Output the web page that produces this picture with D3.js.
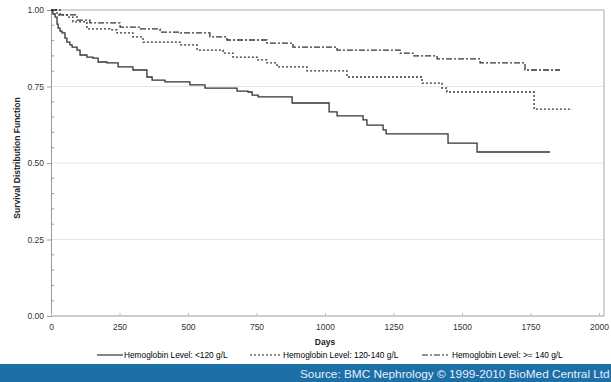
<!DOCTYPE html>
<html>
<head>
<meta charset="utf-8">
<script src="https://cdn.jsdelivr.net/npm/d3@7"></script>
<style>
  body { margin: 0; background: #fff; }
  text { font-family: "Liberation Sans", Arial, sans-serif; }
</style>
</head>
<body>
<script>
// Kaplan-Meier estimates: [day, survival]
const lowHb = [[0,1],[4,0.997],[7,0.987],[15,0.977],[22,0.954],[26,0.941],[33,0.931],[40,0.925],[51,0.908],[58,0.895],[69,0.886],[77,0.879],[95,0.869],[106,0.853],[131,0.846],[153,0.843],[172,0.830],[204,0.827],[245,0.814],[299,0.804],[350,0.781],[369,0.771],[416,0.765],[507,0.755],[562,0.745],[679,0.735],[719,0.732],[734,0.722],[756,0.716],[880,0.696],[1015,0.667],[1044,0.654],[1139,0.641],[1153,0.624],[1212,0.608],[1223,0.595],[1449,0.565],[1555,0.536],[1821,0.536]];
const midHb = [[0,1],[33,0.984],[58,0.977],[80,0.961],[131,0.938],[215,0.935],[241,0.925],[299,0.912],[336,0.895],[471,0.886],[533,0.869],[628,0.859],[664,0.846],[752,0.837],[788,0.827],[825,0.814],[934,0.801],[1080,0.781],[1354,0.761],[1427,0.745],[1445,0.732],[1763,0.676],[1902,0.676]];
const highHb = [[0,1],[22,0.984],[95,0.967],[142,0.958],[252,0.944],[325,0.938],[398,0.928],[471,0.925],[580,0.912],[642,0.902],[788,0.892],[883,0.879],[1044,0.869],[1274,0.859],[1321,0.850],[1409,0.840],[1566,0.827],[1730,0.804],[1858,0.804]];

const seriesNames = ["Hemoglobin Level: <120 g/L", "Hemoglobin Level: 120-140 g/L", "Hemoglobin Level: >= 140 g/L"];
const xTicks = [0, 250, 500, 750, 1000, 1250, 1500, 1750, 2000];
const yTicks = [0, 0.25, 0.5, 0.75, 1];
const sourceText = "Source: BMC Nephrology \u00a9 1999-2010 BioMed Central Ltd";

const width = 611, height = 382;
const margin = {left: 51, right: 604, top: 10, bottom: 316};

const svg = d3.select("body").append("svg")
    .attr("width", width)
    .attr("height", height);

const x = d3.scaleLinear().domain([0, 2000]).range([margin.left, 599]);
const y = d3.scaleLinear().domain([0, 1]).range([margin.bottom, margin.top]);

// grid lines
svg.append("g").selectAll("line")
    .data([0.25, 0.5, 0.75])
    .enter().append("line")
    .attr("x1", margin.left).attr("x2", margin.right)
    .attr("y1", d => y(d)).attr("y2", d => y(d))
    .attr("stroke", "#e6e6e6").attr("stroke-width", 1);

// frame top / right
svg.append("line").attr("x1", margin.left).attr("x2", margin.right)
    .attr("y1", y(1)).attr("y2", y(1)).attr("stroke", "#aaa");
svg.append("line").attr("x1", margin.right).attr("x2", margin.right)
    .attr("y1", y(1)).attr("y2", y(0)).attr("stroke", "#aaa");

// y axis
const yAxis = d3.axisLeft(y).tickValues(yTicks).tickFormat(d3.format(".2f")).tickSize(4).tickPadding(3);
const gy = svg.append("g").attr("transform", `translate(${margin.left},0)`).call(yAxis);
gy.select(".domain").attr("stroke", "#999");
gy.selectAll(".tick line").attr("stroke", "#999");
gy.selectAll("text").attr("font-size", 8.5).attr("fill", "#333");

const minor = d3.range(0.05, 1, 0.05).filter(v => Math.abs(v * 4 - Math.round(v * 4)) > 0.01);
svg.append("g").selectAll("line").data(minor).enter().append("line")
    .attr("x1", margin.left).attr("x2", margin.left + 3)
    .attr("y1", d => y(d)).attr("y2", d => y(d))
    .attr("stroke", "#999");

// x axis
const xAxis = d3.axisBottom(x).tickValues(xTicks).tickFormat(d3.format("d")).tickSize(-3).tickPadding(8);
const gx = svg.append("g").attr("transform", `translate(0,${margin.bottom})`).call(xAxis);
gx.select(".domain").attr("stroke", "#999").attr("d", `M${margin.left},0H${margin.right}`);
gx.selectAll(".tick line").attr("stroke", "#bbb");
gx.selectAll("text").attr("font-size", 8.5).attr("fill", "#333");

// axis titles
svg.append("text").attr("x", (margin.left + 599) / 2).attr("y", 345)
    .attr("text-anchor", "middle").attr("font-size", 8.5).attr("font-weight", "bold")
    .attr("fill", "#222").text("Days");
svg.append("text").attr("transform", `translate(20,${y(0.5) - 5}) rotate(-90)`)
    .attr("text-anchor", "middle").attr("font-size", 8.5).attr("font-weight", "bold")
    .attr("fill", "#222").text("Survival Distribution Function");

// curves
const line = d3.line().x(d => x(d[0])).y(d => y(d[1])).curve(d3.curveStepAfter);
const dashes = [null, "2,2", "6,2,2,2"];
[lowHb, midHb, highHb].forEach((s, i) => {
    svg.append("path").datum(s)
        .attr("d", line)
        .attr("fill", "none")
        .attr("stroke", "#333")
        .attr("stroke-width", 1.3)
        .attr("stroke-dasharray", dashes[i]);
});

// legend
const legendX = [97, 250, 422];
const lg = svg.append("g").selectAll("g").data(seriesNames).enter().append("g")
    .attr("transform", (d, i) => `translate(${legendX[i]},355)`);
lg.append("line").attr("x1", 0).attr("x2", (d, i) => i === 1 ? 32 : 26).attr("y1", 0).attr("y2", 0)
    .attr("stroke", "#222").attr("stroke-width", 1.1)
    .attr("stroke-dasharray", (d, i) => dashes[i]);
lg.append("text").attr("x", (d, i) => i === 1 ? 33 : (i === 2 ? 30 : 27)).attr("y", 3)
    .attr("font-size", 8.3).attr("fill", "#000").text(d => d);

// footer band
svg.append("rect").attr("x", 0).attr("y", 364).attr("width", width).attr("height", 18)
    .attr("fill", "#1d6fa8");
svg.append("text").attr("x", 300).attr("y", 377.5)
    .attr("font-size", 11.8).attr("fill", "#e8f0f8").text(sourceText);
</script>
</body>
</html>
